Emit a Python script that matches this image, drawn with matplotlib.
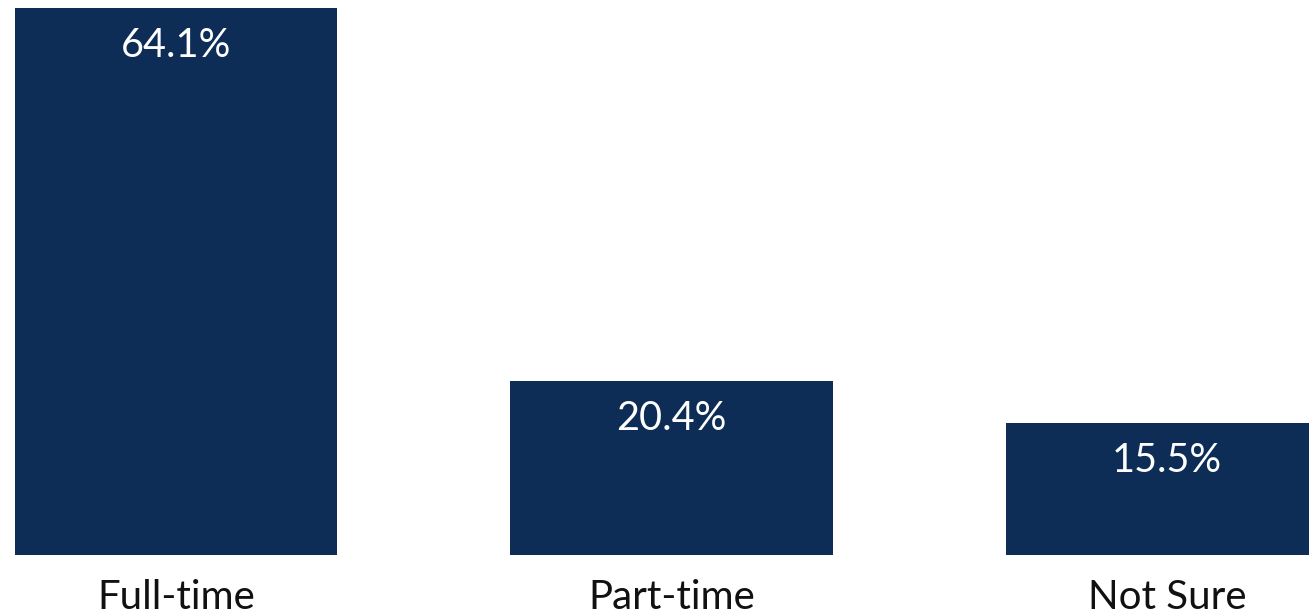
import matplotlib
matplotlib.use("Agg")
import matplotlib.pyplot as plt

categories = ["Full-time", "Part-time", "Not Sure"]
values = [64.1, 20.4, 15.5]
value_labels = ["64.1%", "20.4%", "15.5%"]

bar_color = "#0D2D57"
plt.rcParams['font.family'] = ['Lato', 'DejaVu Sans']

fig = plt.figure(figsize=(13.09, 6.15), dpi=100)
ax = fig.add_axes([0, 60 / 615, 1, 555 / 615])

x = range(len(categories))
bars = ax.bar(x, values, width=0.65, color=bar_color, linewidth=0)

for xi, v, lab in zip(x, values, value_labels):
    ax.annotate(lab, (xi, v), xytext=(0, -38), textcoords="offset pixels",
                ha="center", va="center", color="white", fontsize=28.5)

ax.set_xlim(-176 / 495.5, (1309 - 176) / 495.5)
ax.set_ylim(0, 555 / 8.534)
ax.set_xticks(list(x))
ax.set_xticklabels(categories, fontsize=29, color="#111111")
ax.tick_params(axis="x", length=0, pad=17)
ax.set_yticks([])
for s in ax.spines.values():
    s.set_visible(False)

fig.savefig("out.png", dpi=100, facecolor="white")
